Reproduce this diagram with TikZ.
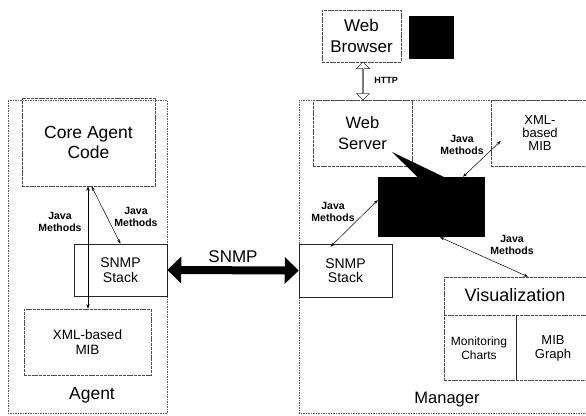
\documentclass[tikz,border=0pt]{standalone}
\usepackage{fontspec}
\setmainfont{Liberation Sans}
\usetikzlibrary{arrows.meta,shapes.arrows}
\begin{document}
\begin{tikzpicture}[x=1pt,y=-1pt,
  frame/.style={draw=black!65, line width=0.5pt, dash pattern=on 1.5pt off 1pt},
  box/.style={draw=black!70, line width=0.5pt, dash pattern=on 3pt off 0.8pt, align=center, inner sep=0pt},
  solidbox/.style={draw=black!85, line width=0.5pt, align=center, inner sep=0pt},
  blackbox/.style={fill=black, draw=none, inner sep=0pt},
  lbl/.style={align=center, inner sep=0pt},
  jm/.style={font=\fontsize{10.5}{12}\selectfont\bfseries, align=center, inner sep=0pt},
  tarrow/.style={line width=0.5pt, {Stealth[length=4.5pt,width=3pt]}-{Stealth[length=4.5pt,width=3pt]}}
]
\useasboundingbox (0,0) rectangle (586,415);

% ---------- Agent ----------
\draw[frame] (8,100) rectangle (167,413);
\node[box, minimum width=133pt, minimum height=88pt, font=\fontsize{17.5}{20}\selectfont] (core) at (88.5,142) {Core Agent\\Code};
\node[solidbox, minimum width=93pt, minimum height=52pt, font=\fontsize{14}{14.5}\selectfont] (astack) at (120.5,270) {SNMP\\Stack};
\node[box, minimum width=127pt, minimum height=66pt, font=\fontsize{13.5}{15}\selectfont] (amib) at (87.5,342) {XML-based\\MIB};
\node[lbl, font=\fontsize{17.5}{18}\selectfont] (agentlbl) at (92,395) {Agent};

\draw[tarrow] (core.south -| 88,0) -- (amib.north -| 88,0);
\draw[tarrow] ([xshift=3pt]core.south) -- (astack.north);
\node[jm] (jm1) at (60,222) {Java\\Methods};
\node[jm] (jm2) at (136,217) {Java\\Methods};

% ---------- Manager ----------
\draw[frame] (592,413) -- (299,413) -- (299,100) -- (592,100);
\node[box, minimum width=79pt, minimum height=52pt, font=\fontsize{17}{21}\selectfont] (wb) at (361.5,36) {Web\\Browser};
\node[blackbox, minimum width=45pt, minimum height=43pt] (bsq) at (431.5,37.5) {};
\node[box, minimum width=99pt, minimum height=66pt, font=\fontsize{16.5}{21}\selectfont] (ws) at (362.5,133) {Web\\Server};
\node[box, minimum width=98pt, minimum height=66pt, font=\fontsize{13}{13}\selectfont] (xmib) at (540,133) {XML-\\based\\MIB};
\node[blackbox, minimum width=107pt, minimum height=60pt] (blk) at (431.5,207) {};
\fill[black] (392,152) -- (445,177.5) -- (418,177.5) -- cycle;
\node[solidbox, minimum width=93pt, minimum height=53pt, font=\fontsize{14}{14.5}\selectfont] (mstack) at (345.5,270.5) {SNMP\\Stack};
\node[box, minimum width=145pt, minimum height=103pt] (vis) at (516.5,328.5) {};
\draw[box] (vis.west |- 0,315) -- (vis.east |- 0,315);
\draw[solidbox] (516,315) -- (vis.south -| 516,0);
\node[lbl, font=\fontsize{18}{20}\selectfont] (vislbl) at (515,295) {Visualization};
\node[lbl, font=\fontsize{12}{14}\selectfont] (mon) at (479,348) {Monitoring\\Charts};
\node[lbl, font=\fontsize{13}{14}\selectfont] (mibg) at (553,348) {MIB\\Graph};
\node[lbl, font=\fontsize{16.5}{18}\selectfont] (mgrlbl) at (447,400) {Manager};

% HTTP hollow arrow
\node[draw=black!80, line width=0.5pt, double arrow, double arrow head extend=3pt, minimum width=13pt, minimum height=38pt, inner sep=0pt, rotate=90] (http) at (363,81) {};
\node[lbl, font=\fontsize{9}{9}\selectfont\bfseries] (httplbl) at (386,80) {HTTP};

% Java methods arrows in manager
\draw[tarrow] ([xshift=31.5pt]blk.north) -- ([xshift=10pt,yshift=-8pt]xmib.west);
\node[jm] (jm3) at (462,145) {Java\\Methods};
\draw[tarrow] ([xshift=-15pt,yshift=-3pt]mstack.north) -- ([yshift=7pt]blk.west);
\node[jm] (jm4) at (333,212) {Java\\Methods};
\draw[tarrow] ([xshift=8.5pt]blk.south) -- ([xshift=11.5pt]vis.north);
\node[jm] (jm5) at (512,245) {Java\\Methods};

% SNMP thick arrow
\draw[line width=8pt, {Triangle[length=14pt,width=26pt]}-{Triangle[length=14pt,width=26pt]}] (astack.east) -- (mstack.west);
\node[lbl, font=\fontsize{17}{18}\selectfont] (snmplbl) at (233,257) {SNMP};
\end{tikzpicture}
\end{document}
